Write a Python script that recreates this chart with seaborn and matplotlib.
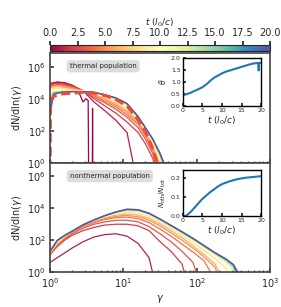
import matplotlib
matplotlib.use("Agg")
import matplotlib.pyplot as plt
import numpy as np
import pandas as pd
import seaborn as sns
from matplotlib.cm import ScalarMappable
from matplotlib.colors import Normalize

sns.set_theme(style="ticks")
plt.rcParams["font.family"] = ["DejaVu Sans"]
plt.rcParams["mathtext.fontset"] = "dejavusans"

# snapshot times (l0/c)
t_snap = [1, 2, 3, 4, 5, 6, 8, 10, 12, 14, 16, 18, 20]

# thermal spectra, log10(gamma) grid and log10(dN/dln gamma)
th_loggamma = [0, 0.05, 0.15, 0.3, 0.45, 0.6, 0.75, 0.9, 1.05, 1.2, 1.3, 1.4, 1.5, 1.6, 1.7]
th_logdn = [
    [4.9, 5.0, 5.0, 4.85, 4.5, 3.8, 3.25, 2.65, 1.9, -1.5, -3, -3, -3, -3, -3],
    [4.85, 4.95, 4.95, 4.8, 4.5, 4.0, 3.55, 3.1, 2.55, 1.9, 1.2, 0.3, -1.5, -3, -3],
    [4.8, 4.9, 4.9, 4.75, 4.5, 4.1, 3.75, 3.35, 2.85, 2.2, 1.5, 0.6, -1.0, -3, -3],
    [4.75, 4.85, 4.85, 4.7, 4.5, 4.2, 3.85, 3.5, 3.0, 2.4, 1.7, 0.8, -0.7, -3, -3],
    [4.7, 4.8, 4.8, 4.65, 4.5, 4.25, 3.95, 3.6, 3.15, 2.5, 1.85, 1.0, -0.4, -3, -3],
    [4.65, 4.75, 4.75, 4.6, 4.5, 4.3, 4.0, 3.7, 3.25, 2.6, 1.95, 1.1, -0.2, -3, -3],
    [4.55, 4.65, 4.65, 4.55, 4.5, 4.35, 4.1, 3.8, 3.4, 2.7, 2.05, 1.25, 0.1, -2, -3],
    [4.45, 4.55, 4.55, 4.5, 4.5, 4.35, 4.15, 3.9, 3.5, 2.75, 2.1, 1.35, 0.3, -1.5, -3],
    [4.3, 4.45, 4.5, 4.5, 4.45, 4.4, 4.2, 3.95, 3.6, 2.8, 2.15, 1.4, 0.4, -1.2, -3],
    [4.1, 4.4, 4.45, 4.45, 4.45, 4.4, 4.25, 4.0, 3.65, 2.85, 2.2, 1.45, 0.5, -1.0, -3],
    [3.8, 4.35, 4.4, 4.45, 4.45, 4.4, 4.25, 4.05, 3.7, 2.9, 2.2, 1.5, 0.55, -0.8, -3],
    [3.4, 4.3, 4.4, 4.45, 4.45, 4.4, 4.25, 4.05, 3.7, 2.9, 2.2, 1.5, 0.6, -0.6, -3],
    [3.0, 4.3, 4.4, 4.45, 4.45, 4.4, 4.25, 4.05, 3.7, 2.9, 2.2, 1.5, 0.6, -0.5, -2],
]

# initial (t=0) spectrum has its own grid
t0_loggamma = [0, 0.1, 0.2, 0.3, 0.38, 0.45, 0.49, 0.52, 0.53, 0.575, 0.58, 0.585]
t0_logdn = [4.95, 5.05, 5.0, 4.85, 4.55, 3.8, 4.0, 3.9, -3, -3, 3.4, -3]

# Maxwell-Juttner fit (dashed)
mj_loggamma = [0, 0.005, 0.05, 0.15, 0.3, 0.45, 0.6, 0.75, 0.9, 1.05, 1.2, 1.3, 1.4, 1.5]
mj_logdn = [-3, 3.9, 4.15, 4.3, 4.35, 4.4, 4.35, 4.2, 3.95, 3.55, 2.7, 1.95, 0.9, -0.5]

# nonthermal spectra
nt_loggamma = [0, 0.1, 0.2, 0.3, 0.45, 0.6, 0.75, 0.9, 1.05, 1.2, 1.35, 1.5, 1.65,
               1.8, 1.95, 2.1, 2.25, 2.4, 2.5, 2.6, 2.7]
nt_logdn = [
    [0.6, 0.9, 1.2, 1.5, 1.9, 2.2, 2.35, 2.4, 2.25, 1.8, 0.9, -2, -3, -3, -3, -3, -3, -3, -3, -3, -3],
    [1.1, 1.6, 2.0, 2.3, 2.6, 2.8, 2.95, 3.0, 3.0, 2.9, 2.6, 1.9, 1.3, 0.5, -2, -3, -3, -3, -3, -3, -3],
    [1.1, 1.65, 2.05, 2.4, 2.75, 3.0, 3.15, 3.25, 3.25, 3.15, 2.85, 2.4, 1.9, 1.3, 0.6, -1.5, -3, -3, -3, -3, -3],
    [1.15, 1.7, 2.1, 2.45, 2.85, 3.1, 3.3, 3.42, 3.45, 3.35, 3.1, 2.7, 2.25, 1.75, 1.25, 0.7, -0.5, -3, -3, -3, -3],
    [1.2, 1.75, 2.15, 2.5, 2.9, 3.15, 3.37, 3.5, 3.55, 3.47, 3.25, 2.9, 2.45, 2.0, 1.5, 0.95, 0.3, -1.5, -3, -3, -3],
    [1.2, 1.8, 2.2, 2.52, 2.92, 3.2, 3.42, 3.57, 3.63, 3.57, 3.37, 3.03, 2.6, 2.15, 1.65, 1.1, 0.5, -0.8, -3, -3, -3],
    [1.25, 1.85, 2.25, 2.57, 2.97, 3.25, 3.48, 3.66, 3.75, 3.7, 3.5, 3.18, 2.76, 2.32, 1.85, 1.35, 0.85, 0.25, -1.5, -3, -3],
    [1.28, 1.9, 2.27, 2.58, 2.98, 3.27, 3.5, 3.7, 3.82, 3.78, 3.58, 3.25, 2.84, 2.4, 1.95, 1.48, 1.0, 0.5, -0.5, -3, -3],
    [1.3, 1.93, 2.28, 2.58, 2.98, 3.28, 3.52, 3.73, 3.86, 3.83, 3.62, 3.28, 2.87, 2.45, 2.02, 1.56, 1.1, 0.65, 0.1, -2, -3],
    [1.3, 1.95, 2.3, 2.58, 2.98, 3.28, 3.53, 3.75, 3.89, 3.86, 3.65, 3.3, 2.9, 2.48, 2.06, 1.6, 1.15, 0.72, 0.3, -1.5, -3],
    [1.3, 1.97, 2.3, 2.57, 2.97, 3.28, 3.54, 3.76, 3.91, 3.88, 3.67, 3.31, 2.91, 2.5, 2.08, 1.63, 1.18, 0.76, 0.4, -1.0, -3],
    [1.3, 1.98, 2.3, 2.56, 2.96, 3.27, 3.54, 3.77, 3.93, 3.9, 3.68, 3.32, 2.92, 2.52, 2.1, 1.65, 1.2, 0.8, 0.45, -0.6, -3],
    [1.3, 2.0, 2.3, 2.55, 2.95, 3.27, 3.55, 3.78, 3.95, 3.92, 3.7, 3.33, 2.93, 2.53, 2.12, 1.67, 1.22, 0.82, 0.48, -0.3, -3],
]

# insets
theta_t = [0, 1, 2, 3, 4, 5, 6, 7, 8, 9, 10, 11, 12, 13, 14, 15, 16, 17, 18, 19, 19.3, 19.4, 19.5, 20]
theta = [0.45, 0.49, 0.55, 0.63, 0.7, 0.78, 0.9, 1.05, 1.18, 1.27, 1.36, 1.43, 1.48, 1.53,
         1.58, 1.63, 1.68, 1.73, 1.77, 1.79, 1.79, 1.48, 1.79, 1.8]
frac_t = [0.6, 1, 2, 3, 4, 5, 6, 7, 8, 9, 10, 12, 14, 16, 18, 20]
frac = [0, 0.005, 0.022, 0.045, 0.068, 0.09, 0.108, 0.125, 0.14, 0.155, 0.167, 0.182,
        0.193, 0.2, 0.204, 0.208]


def to_frame(times, loggamma, logdn):
    rows = []
    for t, vals in zip(times, logdn):
        for lg, ld in zip(loggamma, vals):
            rows.append((t, 10 ** lg, 10 ** ld))
    return pd.DataFrame(rows, columns=["t", "gamma", "dN"])


thermal = to_frame(t_snap, th_loggamma, th_logdn)
thermal = pd.concat([to_frame([0], t0_loggamma, [t0_logdn]), thermal])
nonthermal = to_frame(t_snap, nt_loggamma, nt_logdn)
mj = pd.DataFrame({"gamma": 10 ** np.array(mj_loggamma), "dN": 10 ** np.array(mj_logdn)})

cmap = "Spectral"
norm = Normalize(0, 20)
spine_color = "#444444"
fs = 6.5

fig = plt.figure(figsize=(2.81, 3.07), dpi=100)
ax_top = fig.add_axes([0.178, 0.469, 0.783, 0.358])
ax_bot = fig.add_axes([0.178, 0.114, 0.783, 0.355], sharex=ax_top)
cax = fig.add_axes([0.178, 0.834, 0.783, 0.0195])

for ax, data, label in [(ax_top, thermal, "thermal population"),
                        (ax_bot, nonthermal, "nonthermal population")]:
    sns.lineplot(data=data, x="gamma", y="dN", hue="t", palette=cmap, hue_norm=norm,
                 units="t", estimator=None, lw=0.9, legend=False, ax=ax)
    ax.set_xscale("log")
    ax.set_yscale("log")
    ax.set_xlim(1, 1e3)
    ax.set_ylim(1, 7e6)
    ax.set_yticks([1, 1e2, 1e4, 1e6])
    ax.yaxis.set_minor_locator(matplotlib.ticker.NullLocator())
    ax.set_ylabel(r"dN/dln($\gamma$)", fontsize=fs + 0.5)
    ax.tick_params(direction="in", labelsize=fs + 0.5, length=3, pad=3, color=spine_color)
    ax.tick_params(which="minor", direction="in", length=1.5, color=spine_color)
    for s in ax.spines.values():
        s.set_color(spine_color)
        s.set_linewidth(1.2)
    ax.text(0.09, 0.88, label, transform=ax.transAxes, fontsize=fs - 1.5, va="center",
            bbox=dict(boxstyle="round,pad=0.45", fc="#dddddd", ec="none"))

sns.lineplot(data=mj, x="gamma", y="dN", color="#f0483a", lw=2.2, ax=ax_top,
             dashes=False, linestyle=(0, (3, 1.5)))
ax_top.set_xlabel("")
ax_top.tick_params(labelbottom=False)
ax_bot.set_xlabel(r"$\gamma$", fontsize=fs + 0.5, labelpad=2)
ax_top.yaxis.set_label_coords(-0.12, 0.5)
ax_bot.yaxis.set_label_coords(-0.12, 0.5)

# colorbar on top
cb = fig.colorbar(ScalarMappable(norm=norm, cmap=cmap), cax=cax, orientation="horizontal")
cb.set_ticks(np.arange(0, 20.1, 2.5))
cax.xaxis.set_ticks_position("top")
cax.xaxis.set_label_position("top")
cax.tick_params(labelsize=fs + 0.5, length=3, pad=2)
cb.set_label(r"$t$ ($l_0/c$)", fontsize=fs, labelpad=1.5)
cb.outline.set_linewidth(0.8)

# insets
in_top = fig.add_axes([0.651, 0.655, 0.278, 0.156])
in_bot = fig.add_axes([0.651, 0.296, 0.278, 0.150])
sns.lineplot(x=theta_t, y=theta, color="#1f77b4", lw=1.5, ax=in_top)
sns.lineplot(x=frac_t, y=frac, color="#1f77b4", lw=1.5, ax=in_bot)
in_top.set_ylim(0, 2)
in_top.set_yticks([0, 0.5, 1.0, 1.5, 2.0])
in_top.set_ylabel(r"$\theta$", fontsize=fs - 1, labelpad=2)
in_bot.set_ylim(0, 0.24)
in_bot.set_yticks([0, 0.1, 0.2])
in_bot.set_ylabel(r"$N_{\rm nth}/N_{\rm tot}$", fontsize=fs - 1.5, labelpad=2)
for ax in (in_top, in_bot):
    ax.set_xlim(0, 20)
    ax.set_xticks([0, 5, 10, 15, 20])
    ax.set_xlabel(r"$t$ ($l_0/c$)", fontsize=fs, labelpad=1)
    ax.tick_params(direction="in", labelsize=fs - 2, length=2, pad=1.5)
    for s in ax.spines.values():
        s.set_linewidth(1.0)
        s.set_color("black")
    ax.yaxis.set_major_formatter(matplotlib.ticker.FormatStrFormatter("%.1f"))

fig.savefig("out.png", dpi=100)
